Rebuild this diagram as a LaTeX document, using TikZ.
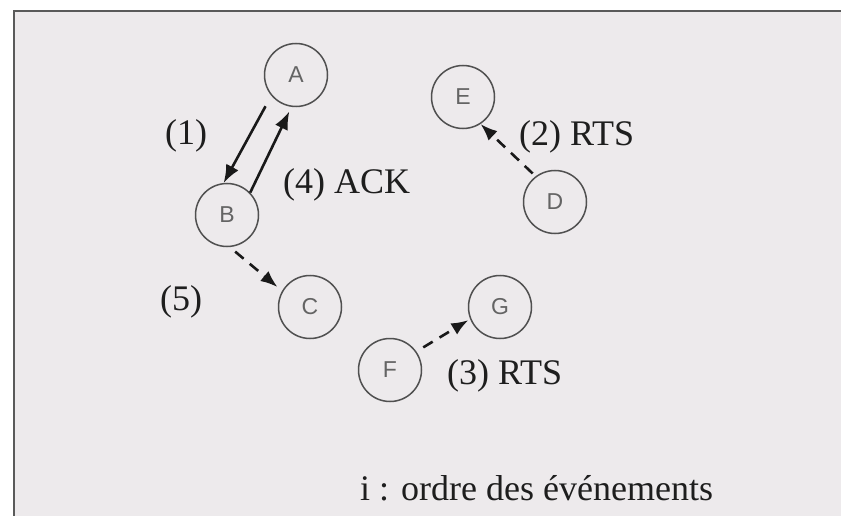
\documentclass[tikz,border=0pt]{standalone}
\usepackage{fontspec}
\setmainfont{Liberation Serif}
\newfontfamily\nodefont{Liberation Sans}
\usetikzlibrary{arrows.meta}
\definecolor{bgcol}{RGB}{237,234,236}
\definecolor{framecol}{RGB}{90,90,90}
\definecolor{circcol}{RGB}{80,80,80}
\definecolor{lettercol}{RGB}{100,100,100}
\definecolor{txtcol}{RGB}{30,30,30}
\tikzset{
  station/.style={circle, draw=circcol, line width=1.5pt, minimum size=63pt, inner sep=0pt,
    font=\nodefont\fontsize{23}{27}\selectfont, text=lettercol},
  lbl/.style={font=\fontsize{36}{42}\selectfont, text=txtcol, inner sep=0pt},
  solidarrow/.style={line width=2.6pt, draw=black!90, -{Latex[length=18pt,width=14pt]}},
  dasharrow/.style={line width=2.6pt, draw=black!90, dash pattern=on 11pt off 8pt, -{Latex[length=17pt,width=13pt]}}
}
\begin{document}
\begin{tikzpicture}[x=1pt,y=-1pt]
\useasboundingbox (0,0) rectangle (841,516);
\fill[white] (0,0) rectangle (841,516);
\fill[bgcol] (14,11) rectangle (841,516);
\draw[framecol, line width=1.6pt] (14,516) -- (14,11) -- (841,11);

\node[station] (A) at (296,75) {A};
\node[station] (B) at (227,215) {B};
\node[station] (E) at (463,97) {E};
\node[station] (D) at (555,202) {D};
\node[station] (C) at (310,307) {C};
\node[station] (G) at (500,307) {G};
\node[station] (F) at (390,370) {F};

\draw[solidarrow, shorten <=12pt] (A.220) -- (B.96);
\draw[solidarrow, shorten >=5pt] (B.44) -- (A.262);
\draw[dasharrow, shorten <=4pt] (D.127) -- (E.303);
\draw[dasharrow, shorten <=7pt, shorten >=6pt] (B.275) -- (C.150);
\draw[dasharrow, shorten <=8pt, shorten >=2pt] (F.35) -- (G.202);

\node[lbl] (l1) at (186,136) {(1)};
\node[lbl, anchor=west] (l4) at (283,185) {(4) ACK};
\node[lbl, anchor=west] (l2) at (519,137) {(2) RTS};
\node[lbl] (l5) at (181,302) {(5)};
\node[lbl, anchor=west] (l3) at (447,376) {(3) RTS};
\node[lbl, anchor=west] (leg) at (360,488) {i : ordre des événements};
\end{tikzpicture}
\end{document}
